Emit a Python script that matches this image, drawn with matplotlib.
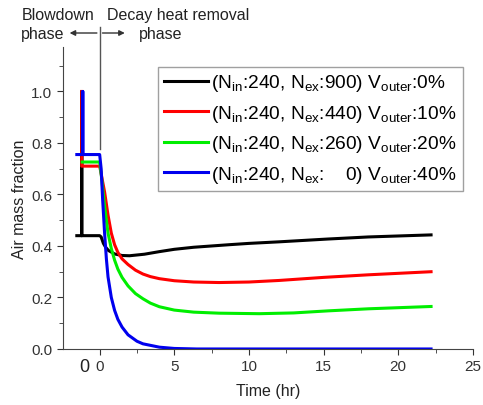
import matplotlib
matplotlib.use('Agg')
import matplotlib.pyplot as plt
from matplotlib.ticker import MultipleLocator, FormatStrFormatter

plt.rcParams['font.family'] = ['Liberation Sans', 'DejaVu Sans']
plt.rcParams['mathtext.default'] = 'regular'

# Time in hours (blowdown phase squeezed into the negative part of the axis)
t_black = [-1.53, -1.2, -1.2, -1.2, 0, 0.1, 0.25, 0.4, 0.6, 1.0, 1.5, 2.0, 3.0, 4, 5, 6.3, 8.7, 10, 12, 15.3, 18, 22.2]
y_black = [0.44, 0.44, 1.0, 0.44, 0.44, 0.435, 0.41, 0.395, 0.382, 0.369, 0.363, 0.362, 0.368, 0.378, 0.387, 0.395, 0.405, 0.41, 0.416, 0.427, 0.435, 0.443]

t_red = [-1.2, -1.2, 0, 0.1, 0.33, 0.56, 0.78, 1.0, 1.22, 1.5, 1.9, 2.4, 2.9, 3.4, 4, 5, 6.3, 8, 10, 12, 15, 18, 22.2]
y_red = [1.0, 0.71, 0.71, 0.68, 0.61, 0.52, 0.45, 0.405, 0.375, 0.35, 0.328, 0.306, 0.291, 0.281, 0.273, 0.265, 0.26, 0.258, 0.26, 0.266, 0.278, 0.288, 0.30]

t_green = [-1.17, 0, 0.1, 0.33, 0.56, 0.78, 1.0, 1.22, 1.5, 1.9, 2.4, 2.9, 3.4, 4, 5, 6.3, 8, 10.7, 13, 15.3, 18, 22.2]
y_green = [0.726, 0.726, 0.68, 0.555, 0.45, 0.39, 0.345, 0.31, 0.278, 0.245, 0.215, 0.195, 0.178, 0.164, 0.151, 0.143, 0.139, 0.137, 0.14, 0.148, 0.156, 0.165]

t_blue = [-1.53, -1.13, -1.13, -1.13, 0, 0.1, 0.2, 0.33, 0.45, 0.56, 0.78, 1.0, 1.22, 1.5, 1.9, 2.5, 2.9, 4, 5, 6.5, 22.2]
y_blue = [0.755, 0.755, 1.0, 0.755, 0.755, 0.70, 0.58, 0.45, 0.35, 0.28, 0.20, 0.15, 0.115, 0.085, 0.055, 0.03, 0.02, 0.007, 0.002, 0.0, 0.0]

labels = [r'(N$_{in}$:240, N$_{ex}$:900) V$_{outer}$:0%',
          r'(N$_{in}$:240, N$_{ex}$:440) V$_{outer}$:10%',
          r'(N$_{in}$:240, N$_{ex}$:260) V$_{outer}$:20%',
          r'(N$_{in}$:240, N$_{ex}$:    0) V$_{outer}$:40%']
colors = ['#000000', '#ff0000', '#00ee00', '#0000ee']

x_ticks = [0, 5, 10, 15, 20, 25]
y_ticks = [0.0, 0.2, 0.4, 0.6, 0.8, 1.0]

fig = plt.figure(figsize=(4.83, 4.06), dpi=100)
ax = fig.add_axes([0.130, 0.138, 0.849, 0.744])

series = [(t_black, y_black), (t_red, y_red), (t_green, y_green), (t_blue, y_blue)]
for (t, y), c, lab in zip(series, colors, labels):
    ax.plot(t, y, color=c, lw=2.2, label=lab, solid_joinstyle='round')

ax.set_xlim(-2.47, 25)
ax.set_ylim(0, 1.173)
ax.set_xticks(x_ticks)
ax.set_yticks(y_ticks)
ax.xaxis.set_minor_locator(MultipleLocator(2.5))
ax.yaxis.set_minor_locator(MultipleLocator(0.1))
ax.yaxis.set_major_formatter(FormatStrFormatter('%.1f'))
ax.tick_params(which='both', direction='out', labelsize=11, colors='#333333')
ax.tick_params(which='major', length=4)
ax.tick_params(which='minor', length=3)
for s in ['top', 'right']:
    ax.spines[s].set_visible(False)
for s in ['left', 'bottom']:
    ax.spines[s].set_color('#444444')

ax.set_xlabel('Time (hr)', fontsize=11.5, color='#222222', labelpad=7)
ax.set_ylabel('Air mass fraction', fontsize=11.5, color='#222222', labelpad=3)

leg = ax.legend(loc='upper right', bbox_to_anchor=(0.975, 0.935), fontsize=13.8,
                frameon=True, fancybox=False, edgecolor='#888888',
                handlelength=2.3, handletextpad=0.2, labelspacing=0.5,
                borderpad=0.3, borderaxespad=0)
leg.get_frame().set_linewidth(1.0)

# phase divider and arrows
ax.plot([0, 0], [0.777, 1.25], color='#555555', lw=1.0, clip_on=False)
ax.annotate('', xy=(-2.2, 1.227), xytext=(0, 1.227), annotation_clip=False,
            arrowprops=dict(arrowstyle='-|>', color='#333333', lw=1.0, mutation_scale=8))
ax.annotate('', xy=(1.87, 1.227), xytext=(0, 1.227), annotation_clip=False,
            arrowprops=dict(arrowstyle='-|>', color='#333333', lw=1.0, mutation_scale=8))

fig.text(0.046, 0.963, 'Blowdown', fontsize=11.5, va='center', ha='left', color='#222222')
fig.text(0.044, 0.914, 'phase', fontsize=11.5, va='center', ha='left', color='#222222')
fig.text(0.222, 0.963, 'Decay heat removal', fontsize=11.5, va='center', ha='left', color='#222222')
fig.text(0.288, 0.914, 'phase', fontsize=11.5, va='center', ha='left', color='#222222')
fig.text(84 / 483, 1 - 368 / 406, '0', fontsize=13, va='center', ha='center', color='#222222')

fig.savefig('out.png', dpi=100)
